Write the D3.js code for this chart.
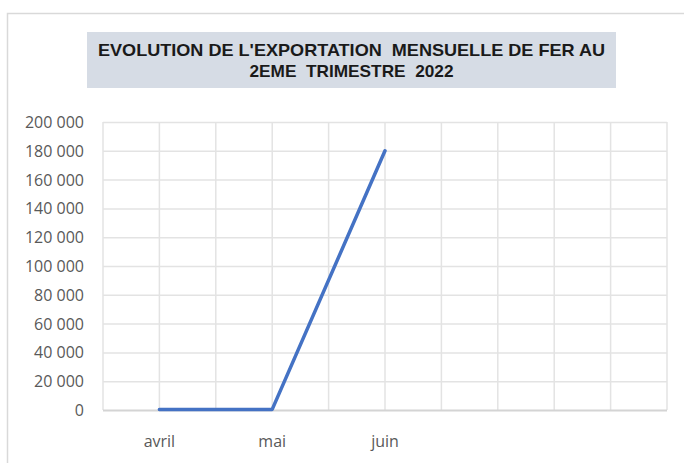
<!DOCTYPE html>
<html>
<head>
<meta charset="utf-8">
<script src="https://cdn.jsdelivr.net/npm/d3@7"></script>
<style>
  body { margin: 0; background: #fff; }
  svg { display: block; }
  .tick-label { font-family: "Open Sans", "Noto Sans", sans-serif; font-size: 16px; fill: #595959; }
  .title { font-family: "Liberation Sans", Arial, sans-serif; font-weight: bold; font-size: 17px; fill: #1a1a1a; white-space: pre; }
</style>
</head>
<body>
<div id="chart"></div>
<script>
// Data
const months = ["avril", "mai", "juin", "", ""];
const exportValues = [400, 400, 180000];
const yTicks = [0, 20000, 40000, 60000, 80000, 100000, 120000, 140000, 160000, 180000, 200000];
const titleLines = ["EVOLUTION DE L'EXPORTATION  MENSUELLE DE FER AU", "2EME  TRIMESTRE  2022"];

// Sizes
const width = 684;
const height = 463;

const margin = {
  top: 122,
  right: 17,
  bottom: 53,
  left: 103
};

const svg = d3.select("#chart")
  .append("svg")
  .attr("width", width)
  .attr("height", height);

// Outer chart frame
svg.append("rect")
  .attr("x", 7.5)
  .attr("y", 13.5)
  .attr("width", 720)
  .attr("height", 500)
  .attr("fill", "#fff")
  .attr("stroke", "#d9d9d9")
  .attr("stroke-width", 1.5);

// Title box
svg.append("rect")
  .attr("x", 87)
  .attr("y", 32)
  .attr("width", 529)
  .attr("height", 56)
  .attr("fill", "#d6dce5");

svg.selectAll(".title")
  .data(titleLines)
  .enter()
  .append("text")
  .attr("class", "title")
  .attr("x", 351.5)
  .attr("y", (d, i) => 56 + i * 21)
  .attr("text-anchor", "middle")
  .attr("textLength", (d, i) => i === 0 ? 507 : 204)
  .attr("lengthAdjust", "spacingAndGlyphs")
  .text(d => d);

// Scales
const x = d3.scaleBand()
  .domain(months.map((d, i) => i))
  .range([margin.left, width - margin.right])
  .padding(0);

const y = d3.scaleLinear()
  .domain([0, 200000])
  .range([height - margin.bottom, margin.top]);

// Vertical gridlines (category edges and centres)
const xGrid = [];
months.forEach((d, i) => {
  xGrid.push(x(i));
  xGrid.push(x(i) + x.bandwidth() / 2);
});
xGrid.push(width - margin.right);

svg.append("g")
  .selectAll("line")
  .data(xGrid)
  .enter()
  .append("line")
  .attr("x1", d => d)
  .attr("x2", d => d)
  .attr("y1", y(0))
  .attr("y2", y(200000))
  .attr("stroke", "#e3e3e3")
  .attr("stroke-width", 1.5);

// Horizontal gridlines + y axis labels
const yAxis = d3.axisLeft(y)
  .tickValues(yTicks)
  .tickSize(-(width - margin.left - margin.right))
  .tickPadding(19)
  .tickFormat(d => d3.format(",")(d).replace(/,/g, " "));

const gy = svg.append("g")
  .attr("transform", `translate(${margin.left},0)`)
  .call(yAxis);

gy.select(".domain").remove();
gy.selectAll(".tick line")
  .attr("stroke", d => d === 0 ? "#d4d4d4" : "#e3e3e3")
  .attr("stroke-width", d => d === 0 ? 2 : 1.5);
gy.selectAll(".tick text")
  .attr("class", "tick-label")
  .attr("dy", "0.34em")
  .style("font-family", null)
  .style("font-size", null);
gy.attr("font-family", null).attr("font-size", null);

// X axis labels
const xAxis = d3.axisBottom(x)
  .tickSize(0)
  .tickPadding(26)
  .tickFormat(i => months[i]);

const gx = svg.append("g")
  .attr("transform", `translate(0,${height - margin.bottom})`)
  .call(xAxis);

gx.select(".domain").remove();
gx.attr("font-family", null).attr("font-size", null);
gx.selectAll(".tick text")
  .attr("class", "tick-label");

// Line
const line = d3.line()
  .x((d, i) => x(i) + x.bandwidth() / 2)
  .y(d => y(d));

svg.append("path")
  .datum(exportValues)
  .attr("d", line)
  .attr("fill", "none")
  .attr("stroke", "#4472c4")
  .attr("stroke-width", 3.5)
  .attr("stroke-linecap", "round")
  .attr("stroke-linejoin", "round");
</script>
</body>
</html>
